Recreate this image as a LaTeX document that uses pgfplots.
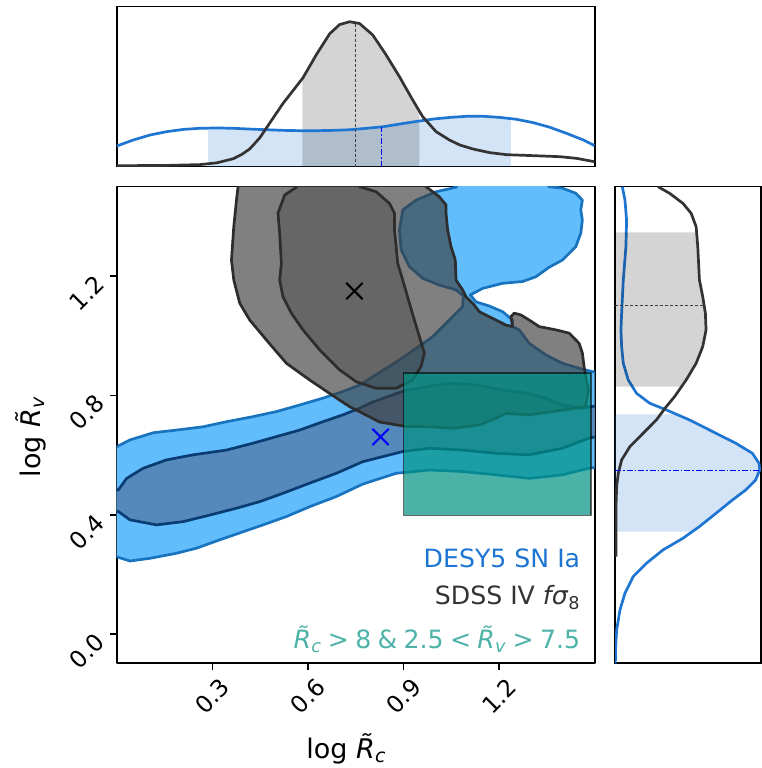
\documentclass[border=0pt]{standalone}
\usepackage{fontspec}
\setmainfont{DejaVu Sans}
\usepackage{pgfplots}
\pgfplotsset{compat=1.18}
\usepgfplotslibrary{fillbetween}

\definecolor{blueO}{RGB}{97,189,251}
\definecolor{blueOline}{RGB}{24,116,190}
\definecolor{blueI}{RGB}{86,137,187}
\definecolor{blueIline}{RGB}{8,60,115}
\definecolor{grayF}{RGB}{60,60,60}
\definecolor{grayline}{RGB}{45,45,45}
\definecolor{tealbox}{RGB}{0,146,131}
\definecolor{tealtext}{RGB}{77,179,168}
\definecolor{desblue}{RGB}{30,118,210}
\definecolor{sdss}{RGB}{51,51,51}

\newcommand{\tickfont}{\fontsize{23.5}{23.5}\selectfont}
\newcommand{\labfont}{\fontsize{27}{27}\selectfont}
\newcommand{\legfont}{\fontsize{25.2}{25.2}\selectfont}
\newcommand{\relsp}{\hspace{0.25em}}

\begin{document}
\begin{tikzpicture}

% ---------------- main panel ----------------
\begin{axis}[
  at={(116.7pt,104.7pt)}, anchor=south west,
  scale only axis, width=478pt, height=476.6pt,
  xmin=0, xmax=1.5, ymin=-0.098, ymax=1.5,
  axis line style={line width=1.6pt, black},
  tick style={line width=1.6pt, black},
  major tick length=7pt, tick align=outside,
  xtick pos=left, ytick pos=left,
  xtick={0.3,0.6,0.9,1.2}, xticklabels={0.3,0.6,0.9,1.2},
  ytick={0,0.4,0.8,1.2}, yticklabels={0.0,0.4,0.8,1.2},
  xticklabel style={font=\tickfont, yshift=-26pt, rotate=45, anchor=center},
  yticklabel style={font=\tickfont, xshift=-23pt, yshift=-17pt, rotate=45, anchor=center},
  xlabel={log \textit{R̃}\textsubscript{\textit{c}}},
  ylabel={log \textit{R̃}\textsubscript{\textit{v}}},
  x label style={font=\labfont, inner sep=0pt, at={(axis description cs:0.48,-0.200)}, anchor=base},
  y label style={font=\labfont, at={(axis description cs:-0.179,0.475)}, anchor=center, rotate=0},
  line join=round,
]
% DESY5 outer (95%)
\addplot[fill=blueO, draw=blueOline, line width=2.7pt] coordinates {
(-0.021,0.631) (-0.021,0.255) (0,0.259) (0.0417,0.245) (0.1043,0.254) (0.1879,0.271)
(0.2505,0.288) (0.3235,0.316) (0.3965,0.343) (0.4591,0.366) (0.5324,0.394) (0.6054,0.427)
(0.6890,0.461) (0.7723,0.503) (0.8769,0.539) (0.9812,0.550) (1.0855,0.545) (1.1901,0.534)
(1.2944,0.522) (1.3987,0.534) (1.4823,0.556) (1.5136,0.560) (1.5136,0.879) (1.4926,0.880)
(1.4613,0.888) (1.3987,0.908) (1.3467,0.936) (1.2944,0.975) (1.2631,1.020) (1.2421,1.031)
(1.2421,1.053) (1.2108,1.081) (1.1691,1.100) (1.1275,1.114) (1.1096,1.137) (1.1481,1.159)
(1.2108,1.176) (1.2734,1.182) (1.3154,1.198) (1.3570,1.230) (1.3987,1.254) (1.4407,1.299)
(1.4563,1.344) (1.4613,1.388) (1.4563,1.422) (1.4613,1.455) (1.4407,1.478) (1.3987,1.495)
(1.3570,1.500) (1.3413,1.522) (1.0752,1.522) (1.0648,1.498) (1.0022,1.483) (0.9396,1.455)
(0.8976,1.422) (0.8873,1.355) (0.8926,1.288) (0.9186,1.232) (0.9602,1.193) (1.0125,1.170)
(1.0648,1.154) (1.0877,1.134) (1.0855,1.098) (1.0439,1.053) (0.9915,0.997) (0.8873,0.919)
(0.7620,0.835) (0.7097,0.813) (0.6470,0.791) (0.5741,0.768) (0.5011,0.746) (0.4278,0.729)
(0.3445,0.712) (0.2712,0.695) (0.1879,0.684) (0.1146,0.675) (0.0417,0.651) (0,0.628)
} -- cycle;
% DESY5 inner (68%)
\addplot[fill=blueI, draw=blueIline, line width=2.7pt] coordinates {
(-0.021,0.487) (-0.021,0.410) (0.005,0.411) (0.0417,0.383) (0.1253,0.366) (0.2086,0.377)
(0.2922,0.399) (0.3758,0.422) (0.4488,0.444) (0.5218,0.472) (0.6054,0.506) (0.6890,0.539)
(0.7723,0.578) (0.8976,0.612) (0.9812,0.623) (1.0855,0.617) (1.1901,0.606) (1.2944,0.601)
(1.3987,0.623) (1.4823,0.657) (1.5136,0.664) (1.5136,0.765) (1.4823,0.762) (1.4613,0.757)
(1.3987,0.768) (1.3467,0.791) (1.2944,0.807) (1.2108,0.818) (1.1588,0.830) (1.1065,0.838)
(1.0439,0.841) (0.9812,0.830) (0.9082,0.818) (0.8559,0.798) (0.8036,0.778) (0.7620,0.757)
(0.7097,0.735) (0.6470,0.712) (0.5741,0.684) (0.5011,0.662) (0.4278,0.640) (0.3445,0.617)
(0.2399,0.601) (0.1566,0.584) (0.0833,0.556) (0.0313,0.522) (0.005,0.483)
} -- cycle;
% SDSS outer (95%)
\addplot[fill=grayF, fill opacity=0.65, draw=grayline, line width=2.7pt] coordinates {
(0.3808,1.522) (0.3808,1.500) (0.3758,1.455) (0.3674,1.366) (0.3602,1.254) (0.3674,1.187)
(0.3862,1.109) (0.4175,1.053) (0.4698,0.986) (0.5324,0.908) (0.6054,0.852) (0.6680,0.807)
(0.7307,0.7625) (0.7723,0.740) (0.8246,0.711) (0.9082,0.696) (0.9812,0.6955) (1.0542,0.690)
(1.1378,0.701) (1.1901,0.724) (1.2214,0.740) (1.2944,0.735) (1.3987,0.751) (1.4720,0.7625)
(1.4801,0.818) (1.4720,0.863) (1.4667,0.897) (1.4613,0.942) (1.4510,0.975) (1.4197,1.009)
(1.3780,1.020) (1.3257,1.031) (1.2944,1.053) (1.2684,1.070) (1.2474,1.076) (1.2371,1.064)
(1.2421,1.031) (1.2214,1.036) (1.1691,1.064) (1.1378,1.081) (1.1222,1.103) (1.0961,1.131)
(1.0855,1.154) (1.0648,1.187) (1.0626,1.254) (1.0492,1.299) (1.0385,1.355) (1.0335,1.411)
(1.0335,1.439) (1.0125,1.466) (0.9709,1.500) (0.9499,1.522)
} -- cycle;
% SDSS inner (68%)
\addplot[fill=grayF, fill opacity=0.38, draw=grayline, line width=2.7pt] coordinates {
(0.5637,1.522) (0.5637,1.498) (0.5271,1.472) (0.5061,1.411) (0.5114,1.344) (0.5168,1.243)
(0.5114,1.187) (0.5218,1.131) (0.5481,1.076) (0.5844,1.020) (0.6367,0.953) (0.6993,0.886)
(0.7516,0.846) (0.8143,0.824) (0.8769,0.824) (0.9289,0.852) (0.9552,0.897) (0.9655,0.942)
(0.9499,0.997) (0.9342,1.053) (0.9186,1.109) (0.8976,1.187) (0.8819,1.243) (0.8769,1.299)
(0.8716,1.355) (0.8716,1.411) (0.8559,1.444) (0.8143,1.483) (0.7620,1.500) (0.7463,1.522)
} -- cycle;
% prior box
\addplot[fill=tealbox, fill opacity=0.7, draw=black, draw opacity=0.6, line width=1.5pt] coordinates {
(0.900,0.398) (1.488,0.398) (1.488,0.875) (0.900,0.875)
} -- cycle;
% best fits
\addplot[only marks, mark=x, mark size=11.5pt, mark options={line width=2pt, draw=black}] coordinates {(0.746,1.150)};
\addplot[only marks, mark=x, mark size=11.5pt, mark options={line width=2pt, draw=blue}] coordinates {(0.828,0.661)};
% legend text
\node[anchor=base east, inner sep=0pt, font=\legfont, text=desblue] at (axis cs:1.455,0.224) {DESY5 SN Ia};
\node[anchor=base east, inner sep=0pt, font=\legfont, text=sdss] at (axis cs:1.455,0.098) {SDSS IV \textit{fσ}\textsubscript{8}};
\node[anchor=base east, inner sep=0pt, font=\legfont, text=tealtext] at (axis cs:1.455,-0.050) {\textit{R̃}\textsubscript{\textit{c}}\relsp>\relsp8\relsp\&\relsp2.5\relsp<\relsp\textit{R̃}\textsubscript{\textit{v}}\relsp>\relsp7.5};
\end{axis}

% ---------------- top marginal ----------------
\begin{axis}[
  at={(116.7pt,601.3pt)}, anchor=south west,
  scale only axis, width=478pt, height=160pt,
  xmin=0, xmax=1.5, ymin=0, ymax=1,
  axis line style={line width=1.6pt, black},
  xtick=\empty, ytick=\empty,
]
\addplot[name path=bT, draw=none] coordinates {
(0,0.129) (0.0523,0.167) (0.1046,0.198) (0.1569,0.219) (0.2092,0.233) (0.2615,0.240)
(0.3138,0.242) (0.3661,0.240) (0.4184,0.235) (0.4707,0.231) (0.5230,0.227) (0.5753,0.225)
(0.6276,0.225) (0.6799,0.227) (0.7322,0.231) (0.7845,0.240) (0.8368,0.250) (0.8891,0.267)
(0.9414,0.283) (0.9937,0.298) (1.0460,0.308) (1.0983,0.315) (1.1506,0.315) (1.2029,0.308)
(1.2552,0.296) (1.3075,0.275) (1.3598,0.246) (1.4121,0.208) (1.4644,0.167) (1.5,0.131)
};
\addplot[name path=kT, draw=none] coordinates {
(0,0.006) (0.1569,0.008) (0.2615,0.013) (0.3138,0.024) (0.3661,0.050) (0.3920,0.076)
(0.4175,0.111) (0.4488,0.180) (0.4775,0.265) (0.5218,0.395) (0.5531,0.475) (0.5844,0.555)
(0.6264,0.700) (0.6680,0.830) (0.6993,0.888) (0.7307,0.906) (0.7620,0.895) (0.8036,0.823)
(0.8456,0.698) (0.8873,0.5625) (0.9289,0.417) (0.9602,0.3125) (1.0022,0.219) (1.0439,0.167)
(1.0774,0.135) (1.1192,0.110) (1.1715,0.0875) (1.2238,0.075) (1.3075,0.069) (1.3912,0.0625)
(1.4435,0.052) (1.5,0.031)
};
\addplot[name path=baseT, draw=none] coordinates {(0,0) (1.5,0)};
\addplot[fill=desblue, fill opacity=0.2, draw=none] fill between[of=bT and baseT, soft clip={(0.287,-0.1) rectangle (1.237,1.1)}];
\addplot[draw=desblue, line width=2.7pt, line join=round] coordinates {
(0,0.129) (0.0523,0.167) (0.1046,0.198) (0.1569,0.219) (0.2092,0.233) (0.2615,0.240)
(0.3138,0.242) (0.3661,0.240) (0.4184,0.235) (0.4707,0.231) (0.5230,0.227) (0.5753,0.225)
(0.6276,0.225) (0.6799,0.227) (0.7322,0.231) (0.7845,0.240) (0.8368,0.250) (0.8891,0.267)
(0.9414,0.283) (0.9937,0.298) (1.0460,0.308) (1.0983,0.315) (1.1506,0.315) (1.2029,0.308)
(1.2552,0.296) (1.3075,0.275) (1.3598,0.246) (1.4121,0.208) (1.4644,0.167) (1.5,0.131)
};
\addplot[fill=black, fill opacity=0.17, draw=none] fill between[of=kT and baseT, soft clip={(0.5825,-0.1) rectangle (0.950,1.1)}];
\addplot[draw=sdss, line width=2.7pt, line join=round] coordinates {
(0,0.006) (0.1569,0.008) (0.2615,0.013) (0.3138,0.024) (0.3661,0.050) (0.3920,0.076)
(0.4175,0.111) (0.4488,0.180) (0.4775,0.265) (0.5218,0.395) (0.5531,0.475) (0.5844,0.555)
(0.6264,0.700) (0.6680,0.830) (0.6993,0.888) (0.7307,0.906) (0.7620,0.895) (0.8036,0.823)
(0.8456,0.698) (0.8873,0.5625) (0.9289,0.417) (0.9602,0.3125) (1.0022,0.219) (1.0439,0.167)
(1.0774,0.135) (1.1192,0.110) (1.1715,0.0875) (1.2238,0.075) (1.3075,0.069) (1.3912,0.0625)
(1.4435,0.052) (1.5,0.031)
};
\addplot[draw=black!75, line width=0.9pt, dash pattern=on 3pt off 2pt] coordinates {(0.749,0) (0.749,0.898)};
\addplot[draw=blue, line width=0.9pt, dash pattern=on 6pt off 2pt on 1.5pt off 2pt] coordinates {(0.830,0) (0.830,0.247)};
\end{axis}

% ---------------- right marginal ----------------
\begin{axis}[
  at={(615pt,104.7pt)}, anchor=south west,
  scale only axis, width=146pt, height=476.6pt,
  xmin=0, xmax=1, ymin=-0.098, ymax=1.5,
  axis line style={line width=1.6pt, black},
  xtick=\empty, ytick=\empty,
]
% blue 68% band
\addplot[fill=desblue, fill opacity=0.2, draw=none] coordinates {
(0,0.737) (0.420,0.737) (0.5102,0.7180) (0.6916,0.6733) (0.8277,0.6397) (0.9410,0.6062)
(0.9864,0.5727) (0.9909,0.5503) (0.9637,0.5168) (0.8957,0.4833) (0.8050,0.4498) (0.6916,0.4050)
(0.5782,0.3604) (0.530,0.3436) (0,0.3436)
} -- cycle;
\addplot[draw=desblue, line width=2.7pt, line join=round] coordinates {
(0.0499,1.500) (0.0680,1.4555) (0.0794,1.3884) (0.0748,1.2990) (0.0567,1.1873) (0.0454,1.0755)
(0.0408,1.0197) (0.0454,0.9638) (0.0567,0.9079) (0.0907,0.8520) (0.1474,0.8073) (0.2381,0.7738)
(0.3515,0.7515) (0.5102,0.7180) (0.6916,0.6733) (0.8277,0.6397) (0.9410,0.6062) (0.9864,0.5727)
(0.9909,0.5503) (0.9637,0.5168) (0.8957,0.4833) (0.8050,0.4498) (0.6916,0.4050) (0.5782,0.3604)
(0.4649,0.3212) (0.3288,0.2821) (0.2154,0.2374) (0.1247,0.1928) (0.0680,0.1369) (0.0340,0.0810)
(0.0113,0.0140) (0.0045,-0.0419) (0.0023,-0.098)
};
% gray 68% band
\addplot[fill=black, fill opacity=0.17, draw=none] coordinates {
(0,1.347) (0.559,1.347) (0.5669,1.2990) (0.5782,1.1873) (0.6009,1.1314) (0.6190,1.0755)
(0.6236,1.0197) (0.6009,0.9638) (0.5556,0.9079) (0.4875,0.8520) (0.456,0.8297) (0,0.8297)
} -- cycle;
\addplot[draw=sdss, line width=2.7pt, line join=round] coordinates {
(0.2948,1.500) (0.3741,1.4778) (0.4649,1.4443) (0.5215,1.4108) (0.5556,1.3661) (0.5669,1.2990)
(0.5782,1.1873) (0.6009,1.1314) (0.6190,1.0755) (0.6236,1.0197) (0.6009,0.9638) (0.5556,0.9079)
(0.4875,0.8520) (0.4082,0.7962) (0.3515,0.7627) (0.2834,0.7180) (0.1927,0.6733) (0.1020,0.6286)
(0.0454,0.5839) (0.0227,0.5392) (0.0113,0.4945) (0.0068,0.4275) (0.0068,0.3492) (0.0068,0.2598)
};
\addplot[draw=black!75, line width=0.9pt, dash pattern=on 3pt off 2pt] coordinates {(0,1.1035) (0.61,1.1035)};
\addplot[draw=blue, line width=0.9pt, dash pattern=on 6pt off 2pt on 1.5pt off 2pt] coordinates {(0,0.547) (0.99,0.547)};
\end{axis}
\pgfresetboundingbox
\useasboundingbox (0,0) rectangle (762pt,768pt);
\end{tikzpicture}
\end{document}
